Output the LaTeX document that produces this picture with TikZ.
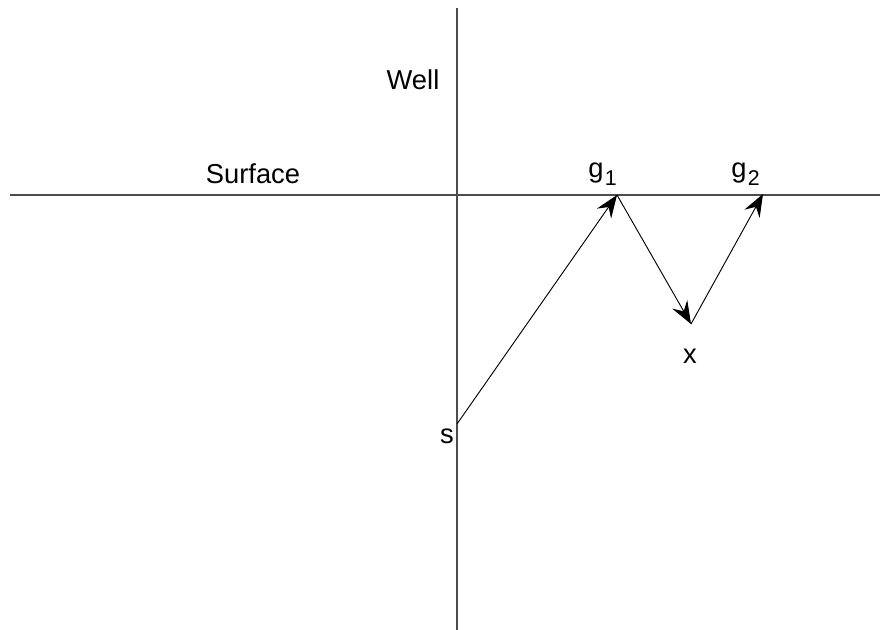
\documentclass[tikz,border=0pt]{standalone}
\usepackage{fontspec}
\setmainfont{Liberation Sans}
\usetikzlibrary{arrows.meta}
\begin{document}
\begin{tikzpicture}[x=0.75pt,y=-0.75pt,
  axis/.style={draw=black!70,line width=0.9pt},
  ray/.style={draw=black,line width=0.7pt,-{Stealth[length=17pt,width=13pt,inset=6pt]}},
  lbl/.style={font=\fontsize{20.5}{24}\selectfont,inner sep=0pt}]
\useasboundingbox (0,0) rectangle (895,630);
\coordinate (wtop) at (457,8);
\coordinate (wbot) at (457,630);
\coordinate (sl) at (10,195);
\coordinate (sr) at (880,195);
\draw[axis] (wtop) -- (wbot);
\draw[axis] (sl) -- (sr);
\coordinate (s) at (457,424);
\coordinate (g1) at (617,195);
\coordinate (x) at (691,324);
\coordinate (g2) at (763,194);
\draw[ray] (s) -- (g1);
\draw[ray] (g1) -- (x);
\draw[ray] (x) -- (g2);
\node[lbl] (well) at (413,80) {Well};
\node[lbl] (surf) at (253,174) {Surface};
\node[lbl,anchor=base west] (g1l) at (588,178) {g\kern1pt\raisebox{-0.5ex}{\fontsize{16}{18}\selectfont 1}};
\node[lbl,anchor=base west] (g2l) at (731,178) {g\kern1pt\raisebox{-0.5ex}{\fontsize{16}{18}\selectfont 2}};
\node[lbl] (xl) at (690,356) {x};
\node[lbl] (sl2) at (447,436) {s};
\end{tikzpicture}
\end{document}
